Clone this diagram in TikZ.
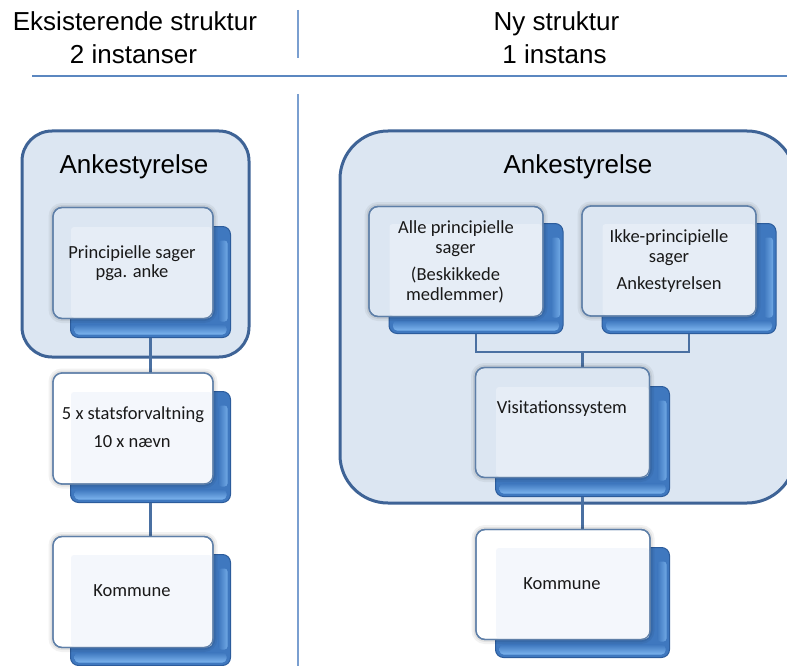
\documentclass[tikz,border=0pt]{standalone}
\usepackage{fontspec}
\setmainfont{Carlito}
\newfontfamily\arialf{Liberation Sans}
\definecolor{bgblue}{HTML}{DCE6F2}
\definecolor{bigedge}{HTML}{3E6396}
\definecolor{lineblue}{HTML}{4A70A2}
\definecolor{headline}{HTML}{5B87C0}
\definecolor{divline}{HTML}{7A9FD0}
\definecolor{frontedge}{HTML}{5E7FA8}
\definecolor{ovblue}{HTML}{E6EDF6}
\definecolor{ovwhite}{HTML}{F4F7FC}
\definecolor{backmid}{HTML}{3F78BF}
\definecolor{backdark}{HTML}{2C5C9C}
\definecolor{backlight}{HTML}{7CB4EE}
\tikzset{
  bigbox/.style={draw=bigedge, fill=bgblue, line width=3pt, rounded corners=#1, inner sep=0pt, outer sep=0pt},
  backbox/.style={fill=backmid, draw=backdark, line width=1pt, rounded corners=8pt, inner sep=0pt, outer sep=0pt},
  frontbox/.style={draw=frontedge, line width=1.3pt, rounded corners=9pt, inner sep=0pt, outer sep=0pt,
    preaction={draw=black, opacity=0.05, line width=9pt},
    preaction={draw=black, opacity=0.07, line width=5pt}},
  frontline/.style={draw=frontedge, line width=1.3pt, rounded corners=9pt},
  conn/.style={draw=lineblue, line width=2.5pt},
  boxtxt/.style={anchor=base, inner sep=0pt, font=\fontsize{18.5pt}{20pt}\selectfont, text=black!90},
  headtxt/.style={anchor=base, inner sep=0pt, font=\arialf\fontsize{26pt}{30pt}\selectfont, text=black},
  lside/.style={minimum width=160pt, minimum height=111pt},
  rside/.style={minimum width=174pt, minimum height=110pt}
}
\newcommand\bevel[1]{%
  \shade[top color=backmid, bottom color=backlight, rounded corners=4pt]
    ([shift={(4,-13)}]#1.south west) rectangle ([shift={(-4,-3)}]#1.south east);
  \shade[left color=backmid, right color=backlight!80!backmid, rounded corners=3pt]
    ([shift={(-12,14)}]#1.north east) rectangle ([shift={(-3,-16)}]#1.south east);}
\newcommand\overlap[3]{%
  \fill[#3, rounded corners=3pt] ([shift={(0.5,0.5)}]#1.north west) rectangle ([shift={(-1,-1)}]#2.south east);
  \draw[frontline] (#2.north west) rectangle (#2.south east);}
\begin{document}
\begin{tikzpicture}[x=1pt,y=-1pt]
\useasboundingbox (0,0) rectangle (787,666);
\clip (0,0) rectangle (787,666);
% header
\node[headtxt] (h1) at (135,31) {Eksisterende struktur};
\node[headtxt] (h2) at (133.5,64) {2 instanser};
\node[headtxt] (h3) at (556.5,31) {Ny struktur};
\node[headtxt] (h4) at (554.5,64) {1 instans};
\draw[headline, line width=2pt] (32,76) -- (787,76);
\draw[divline, line width=1.3pt] (298,10) -- (298,58);
\draw[divline, line width=1.3pt] (298,94) -- (298,666);
% big boxes
\node[bigbox=30pt, minimum width=227pt, minimum height=226pt] (LA) at (135.5,244) {};
\node[bigbox=48pt, minimum width=455pt, minimum height=372pt] (RA) at (567.5,317) {};
\node[headtxt] (LAt) at (134,173) {Ankestyrelse};
\node[headtxt] (RAt) at (578,173) {Ankestyrelse};
% back boxes
\node[backbox, lside] (Pb) at (150.5,282) {};
\node[backbox, lside] (Sb) at (150.5,447) {};
\node[backbox, lside] (KLb) at (150.5,610) {};
\node[backbox, rside] (Ab) at (476,278.5) {};
\node[backbox, rside] (Ib) at (689,278.5) {};
\node[backbox, rside] (Vb) at (582.5,441.5) {};
\node[backbox, rside] (KRb) at (582.5,602.5) {};
\bevel{Pb}\bevel{Sb}\bevel{KLb}\bevel{Ab}\bevel{Ib}\bevel{Vb}\bevel{KRb}
% connectors
\coordinate (J) at (582.5,352);
\draw[conn] (Pb.south) -- (Pb.south |- 0,373);
\draw[conn] (Sb.south) -- (Sb.south |- 0,537);
\draw[conn] (Ab.south) -- (Ab.south |- J) -- (Ib.south |- J) -- (Ib.south);
\draw[conn] (J) -- (J |- 0,368);
\draw[conn] (Vb.south) -- (Vb.south |- 0,529);
% front boxes
\node[frontbox, lside, fill=bgblue] (Pf) at (133,263) {};
\node[frontbox, lside, fill=white] (Sf) at (133,428.5) {};
\node[frontbox, lside, fill=white] (KLf) at (133,592) {};
\node[frontbox, rside, fill=bgblue] (Af) at (456,261.5) {};
\node[frontbox, rside, fill=bgblue] (If) at (669,261) {};
\node[frontbox, rside, fill=bgblue] (Vf) at (562.5,422.5) {};
\node[frontbox, rside, fill=white] (KRf) at (563,584.5) {};
\overlap{Pb}{Pf}{ovblue}
\overlap{Sb}{Sf}{ovwhite}
\overlap{KLb}{KLf}{ovwhite}
\overlap{Ab}{Af}{ovblue}
\overlap{Ib}{If}{ovblue}
\overlap{Vb}{Vf}{ovblue}
\overlap{KRb}{KRf}{ovwhite}
% texts
\node[boxtxt] (p1) at (132,258) {Principielle sager};
\node[boxtxt] (p2) at (132,277) {pga. anke};
\node[boxtxt] (s1) at (133,419) {5 x statsforvaltning};
\node[boxtxt] (s2) at (132,447) {10 x nævn};
\node[boxtxt] (k1) at (132,596) {Kommune};
\node[boxtxt] (a1) at (456,233) {Alle principielle};
\node[boxtxt] (a2) at (455.5,253) {sager};
\node[boxtxt] (a3) at (455.5,280) {(Beskikkede};
\node[boxtxt] (a4) at (455,300) {medlemmer)};
\node[boxtxt] (i1) at (669,242) {Ikke-principielle};
\node[boxtxt] (i2) at (669,262) {sager};
\node[boxtxt] (i3) at (669,289) {Ankestyrelsen};
\node[boxtxt] (v1) at (562,413) {Visitationssystem};
\node[boxtxt] (k2) at (562,589) {Kommune};
\end{tikzpicture}
\end{document}
